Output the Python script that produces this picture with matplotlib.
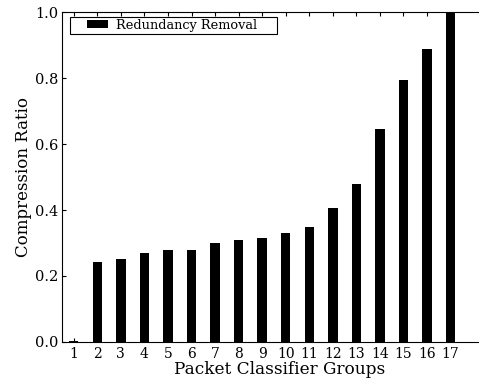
import matplotlib
matplotlib.use("Agg")
import matplotlib.pyplot as plt
from matplotlib.patches import Rectangle
from matplotlib.legend_handler import HandlerPatch

# compression ratio per packet classifier group
groups = list(range(1, 18))
ratios = [0.003, 0.243, 0.253, 0.270, 0.279, 0.279, 0.299, 0.309, 0.314,
          0.330, 0.348, 0.406, 0.479, 0.645, 0.793, 0.888, 1.0]
y_ticks = [0.0, 0.2, 0.4, 0.6, 0.8, 1.0]

plt.rcParams['font.family'] = 'DejaVu Serif'

fig = plt.figure(figsize=(4.79, 3.81), dpi=100)
# axes run past the right edge of the figure, as in the original crop
ax = fig.add_axes([0.1294, 0.1024, 0.9096, 0.866])

bars = ax.bar(groups, ratios, width=0.4, color='black', label='Redundancy Removal')

ax.set_xlim(0.5, 19)
ax.set_ylim(0, 1.0)
ax.set_xticks(groups)
ax.set_yticks(y_ticks)
ax.set_yticklabels([f"{v:.1f}" for v in y_ticks])
ax.tick_params(direction='in', top=True, right=False, length=3)
ax.tick_params(axis='x', labelsize=10)
ax.tick_params(axis='y', labelsize=10.5, pad=2.5)
ax.spines['right'].set_visible(False)
ax.set_xlabel('Packet Classifier Groups', fontsize=12.2, labelpad=0)
ax.set_ylabel('Compression Ratio', fontsize=12, labelpad=2)


# legend swatch sits in the right part of a wide handle box (extra left padding)
def swatch(legend, orig_handle, xdescent, ydescent, width, height, fontsize):
    return Rectangle((-xdescent + width * 0.42, -ydescent + height * 0.05),
                     width * 0.58, height * 0.9)


leg = ax.legend(handles=[bars.patches[0]], labels=['Redundancy Removal'],
                loc='upper left', bbox_to_anchor=(0.0184, 0, 0.475, 0.985),
                mode='expand', borderaxespad=0, fontsize=9.3, fancybox=False,
                framealpha=1, edgecolor='black', borderpad=0.15,
                handlelength=2.8, handletextpad=0.6,
                handler_map={Rectangle: HandlerPatch(patch_func=swatch)})
leg.get_frame().set_linewidth(0.8)

fig.savefig('out.png', dpi=100)
